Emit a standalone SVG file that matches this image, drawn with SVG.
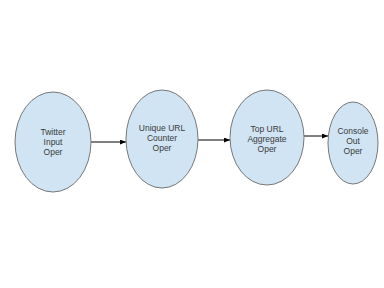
<svg xmlns="http://www.w3.org/2000/svg" width="384" height="288" viewBox="0 0 384 288">
  <defs>
    <marker id="arrow" markerWidth="6" markerHeight="5" refX="6" refY="2.5" orient="auto" markerUnits="userSpaceOnUse">
      <path d="M0,0 L6,2.5 L0,5 z" fill="#000"/>
    </marker>
    <style>
      .node ellipse { fill: #d0e4f3; stroke: #777; stroke-width: 1; }
      .node text { font-family: "Liberation Sans", Arial, sans-serif; font-size: 8.5px; fill: #3a3a3a; text-anchor: middle; }
      .edge { stroke: #000; stroke-width: 1; fill: none; marker-end: url(#arrow); }
    </style>
  </defs>
  <rect width="384" height="288" fill="#fff"/>
  <g id="connectors">
    <line class="edge" x1="91" y1="142" x2="126" y2="142"/>
    <line class="edge" x1="198" y1="140" x2="230" y2="140"/>
    <line class="edge" x1="304" y1="136" x2="328" y2="136"/>
  </g>
  <g id="twitter-input" class="node">
    <ellipse cx="53" cy="142" rx="38" ry="50"/>
    <text x="53" y="135">Twitter</text>
    <text x="53" y="145">Input</text>
    <text x="53" y="155">Oper</text>
  </g>
  <g id="unique-url-counter" class="node">
    <ellipse cx="162" cy="139" rx="36" ry="49"/>
    <text x="162" y="131">Unique URL</text>
    <text x="162" y="141">Counter</text>
    <text x="162" y="151">Oper</text>
  </g>
  <g id="top-url-aggregate" class="node">
    <ellipse cx="267" cy="137.5" rx="37" ry="47.5"/>
    <text x="267" y="132">Top URL</text>
    <text x="267" y="142">Aggregate</text>
    <text x="267" y="152">Oper</text>
  </g>
  <g id="console-out" class="node">
    <ellipse cx="353" cy="143" rx="25" ry="41"/>
    <text x="353" y="134">Console</text>
    <text x="353" y="144">Out</text>
    <text x="353" y="154">Oper</text>
  </g>
</svg>
